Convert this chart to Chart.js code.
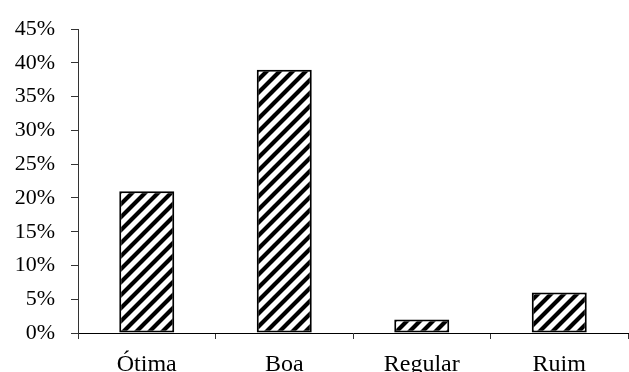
<!DOCTYPE html>
<html>
<head>
<meta charset="utf-8">
<script src="https://cdn.jsdelivr.net/npm/chart.js@4/dist/chart.umd.min.js"></script>
<style>
  html, body { margin: 0; padding: 0; background: #fff; }
  #wrap { width: 629px; height: 372px; }
</style>
</head>
<body>
<div id="wrap"><canvas id="c" width="629" height="372"></canvas></div>
<script>
const categories = ['Ótima', 'Boa', 'Regular', 'Ruim'];
const percentages = [21, 39, 2, 6];
const yTicks = [0, 5, 10, 15, 20, 25, 30, 35, 40, 45];

// Diagonal "/" hatch fill for the bars
function makeHatch() {
  const s = 13;
  const t = document.createElement('canvas');
  t.width = s; t.height = s;
  const g = t.getContext('2d');
  g.fillStyle = '#fff';
  g.fillRect(0, 0, s, s);
  g.strokeStyle = '#000';
  g.lineWidth = 4.2;
  g.lineCap = 'square';
  g.beginPath();
  g.moveTo(-s, 2 * s); g.lineTo(2 * s, -s);
  g.moveTo(-2 * s, 2 * s); g.lineTo(s, -s);
  g.moveTo(0, 2 * s); g.lineTo(3 * s, -s);
  g.stroke();
  return g.createPattern(t, 'repeat');
}

const serif = '"Liberation Serif", "Times New Roman", serif';

new Chart(document.getElementById('c'), {
  type: 'bar',
  data: {
    labels: categories,
    datasets: [{
      data: percentages,
      backgroundColor: makeHatch(),
      borderColor: '#000',
      borderWidth: 2,
      borderSkipped: false,
      barPercentage: 0.4,
      categoryPercentage: 1.0
    }]
  },
  options: {
    responsive: false,
    animation: false,
    devicePixelRatio: 1,
    layout: { padding: { left: 0, right: 1, top: 24, bottom: 0 } },
    plugins: { legend: { display: false }, tooltip: { enabled: false } },
    scales: {
      x: {
        offset: true,
        grid: { offset: true, drawOnChartArea: false, drawTicks: true, tickLength: 6, color: '#333' },
        border: { color: '#000', width: 1 },
        ticks: { color: '#000', font: { family: serif, size: 24 }, padding: 11, maxRotation: 0 },
        afterFit: s => { s.height = 39; }
      },
      y: {
        min: 0, max: 45,
        afterBuildTicks: s => { s.ticks = yTicks.map(v => ({ value: v })); },
        grid: { drawOnChartArea: false, drawTicks: true, tickLength: 7, color: '#333' },
        border: { color: '#333', width: 1 },
        ticks: { color: '#000', font: { family: serif, size: 22 }, padding: 16, callback: v => v + '%' },
        afterFit: s => { s.width = 78; }
      }
    }
  }
});
</script>
</body>
</html>
